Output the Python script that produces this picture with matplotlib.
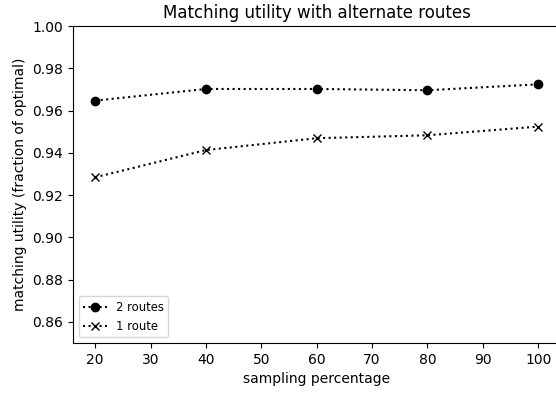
import numpy as np
import matplotlib
matplotlib.use("Agg")
import matplotlib.pyplot as plt

sampling = [20, 40, 60, 80, 100]
two_routes = [0.9647, 0.9702, 0.9702, 0.9696, 0.9724]
one_route = [0.9284, 0.9413, 0.9469, 0.9483, 0.9524]

W, H = 556, 394
fig = plt.figure(figsize=(W / 100, H / 100), dpi=100)
ax = fig.add_axes([73 / W, (H - 343) / H, (560.4 - 73) / W, (343 - 26) / H])

ax.plot(sampling, two_routes, ':', color='k', marker='o', label='2 routes')
ax.plot(sampling, one_route, ':', color='k', marker='x', label='1 route')

ax.set_xlim(16, 104)
ax.set_ylim(0.85, 1.00)
ax.set_yticks(np.arange(0.86, 1.001, 0.02))
ax.set_xticks([20, 30, 40, 50, 60, 70, 80, 90, 100])
ax.set_xlabel('sampling percentage')
ax.set_ylabel('matching utility (fraction of optimal)')
ax.set_title('Matching utility with alternate routes')
ax.legend(loc='lower left', fontsize='small')

fig.savefig('out.png', dpi=100)
